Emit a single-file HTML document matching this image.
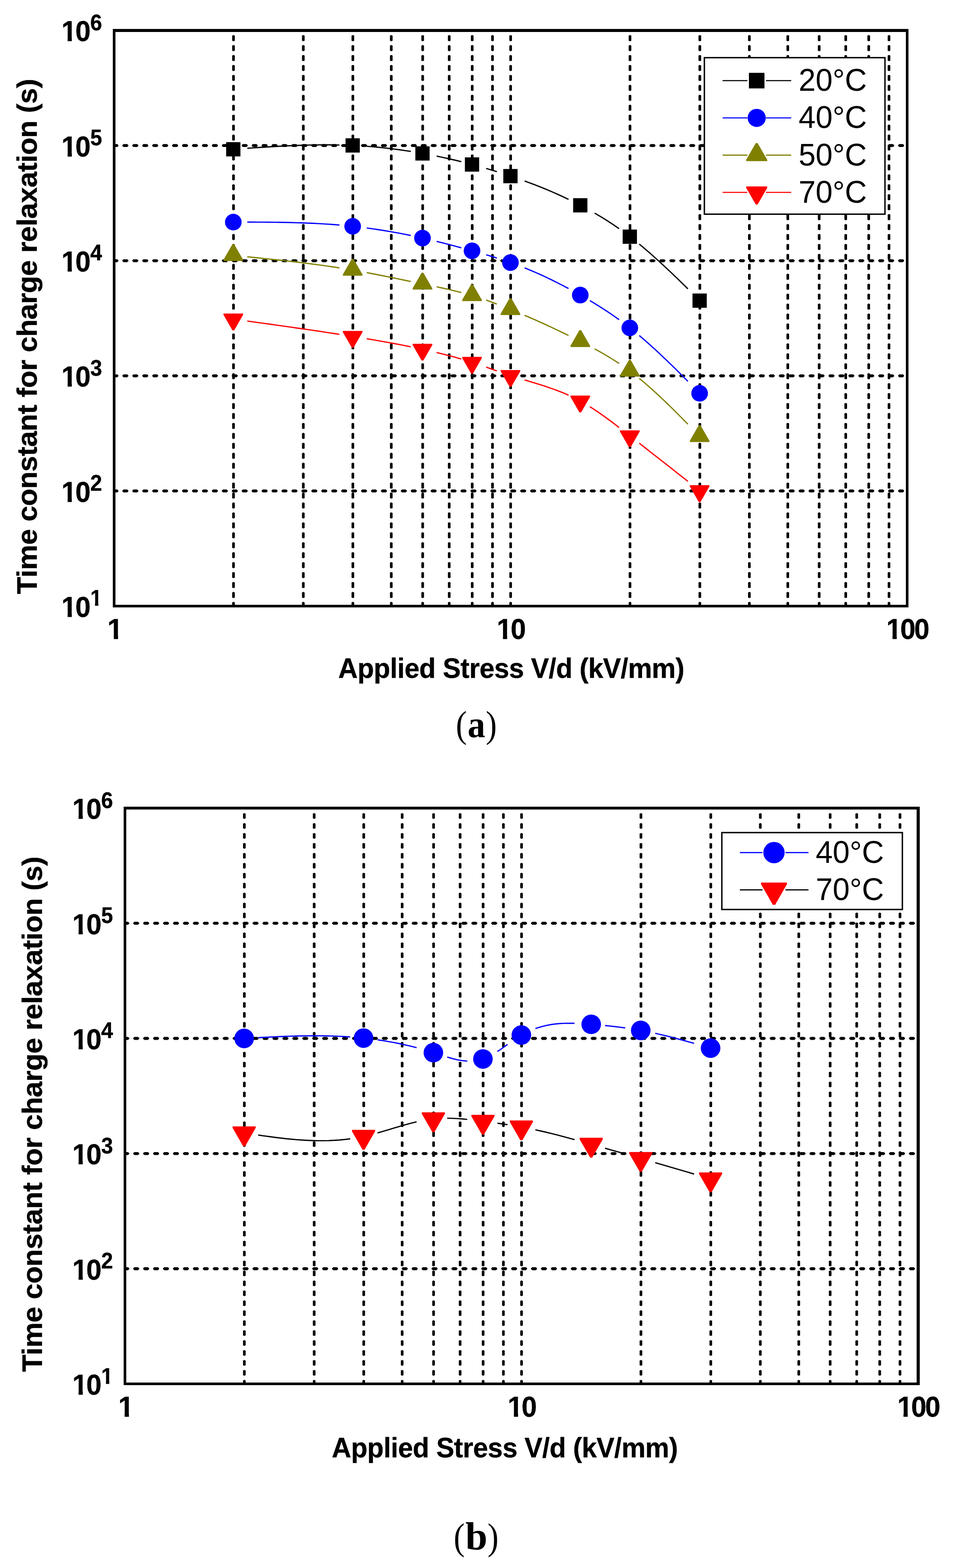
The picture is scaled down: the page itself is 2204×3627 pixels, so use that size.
<!DOCTYPE html>
<html lang="en">
<head>
<meta charset="utf-8">
<title>Time constant for charge relaxation vs applied stress</title>
<style>
html,body{margin:0;padding:0;background:#fff}
body{width:2204px;height:3627px}
svg{display:block}
text{fill:#000}
.s{font-family:"Liberation Sans",Arial,Helvetica,sans-serif}
.f{font-family:"Liberation Serif","Times New Roman",serif}
</style>
</head>
<body>
<svg width="2204" height="3627" viewBox="0 0 2204 3627" role="img" aria-label="Time constant for charge relaxation versus applied stress, panels (a) and (b)">
<rect width="2204" height="3627" fill="#fff"/>
<g id="chart-a">
<g stroke="#000" fill="none">
<path d="M540 1402V70.4" stroke-width="6.1" stroke-dasharray="12.2 10.8" stroke-dashoffset="3.4"/>
<path d="M540 1402V70.4" stroke-width="3.6" stroke-linecap="round" stroke-dasharray="10.8 12.2" stroke-dashoffset="2.7"/>
<path d="M701.47 1402V70.4" stroke-width="6.1" stroke-dasharray="12.2 10.8" stroke-dashoffset="3.4"/>
<path d="M701.47 1402V70.4" stroke-width="3.6" stroke-linecap="round" stroke-dasharray="10.8 12.2" stroke-dashoffset="2.7"/>
<path d="M816.05 1402V70.4" stroke-width="6.1" stroke-dasharray="12.2 10.8" stroke-dashoffset="3.4"/>
<path d="M816.05 1402V70.4" stroke-width="3.6" stroke-linecap="round" stroke-dasharray="10.8 12.2" stroke-dashoffset="2.7"/>
<path d="M904.91 1402V70.4" stroke-width="6.1" stroke-dasharray="12.2 10.8" stroke-dashoffset="3.4"/>
<path d="M904.91 1402V70.4" stroke-width="3.6" stroke-linecap="round" stroke-dasharray="10.8 12.2" stroke-dashoffset="2.7"/>
<path d="M977.52 1402V70.4" stroke-width="6.1" stroke-dasharray="12.2 10.8" stroke-dashoffset="3.4"/>
<path d="M977.52 1402V70.4" stroke-width="3.6" stroke-linecap="round" stroke-dasharray="10.8 12.2" stroke-dashoffset="2.7"/>
<path d="M1038.91 1402V70.4" stroke-width="6.1" stroke-dasharray="12.2 10.8" stroke-dashoffset="3.4"/>
<path d="M1038.91 1402V70.4" stroke-width="3.6" stroke-linecap="round" stroke-dasharray="10.8 12.2" stroke-dashoffset="2.7"/>
<path d="M1092.09 1402V70.4" stroke-width="6.1" stroke-dasharray="12.2 10.8" stroke-dashoffset="3.4"/>
<path d="M1092.09 1402V70.4" stroke-width="3.6" stroke-linecap="round" stroke-dasharray="10.8 12.2" stroke-dashoffset="2.7"/>
<path d="M1139 1402V70.4" stroke-width="6.1" stroke-dasharray="12.2 10.8" stroke-dashoffset="3.4"/>
<path d="M1139 1402V70.4" stroke-width="3.6" stroke-linecap="round" stroke-dasharray="10.8 12.2" stroke-dashoffset="2.7"/>
<path d="M1180.96 1402V70.4" stroke-width="6.1" stroke-dasharray="12.2 10.8" stroke-dashoffset="3.4"/>
<path d="M1180.96 1402V70.4" stroke-width="3.6" stroke-linecap="round" stroke-dasharray="10.8 12.2" stroke-dashoffset="2.7"/>
<path d="M1457.01 1402V70.4" stroke-width="6.1" stroke-dasharray="12.2 10.8" stroke-dashoffset="3.4"/>
<path d="M1457.01 1402V70.4" stroke-width="3.6" stroke-linecap="round" stroke-dasharray="10.8 12.2" stroke-dashoffset="2.7"/>
<path d="M1618.48 1402V70.4" stroke-width="6.1" stroke-dasharray="12.2 10.8" stroke-dashoffset="3.4"/>
<path d="M1618.48 1402V70.4" stroke-width="3.6" stroke-linecap="round" stroke-dasharray="10.8 12.2" stroke-dashoffset="2.7"/>
<path d="M1733.06 1402V70.4" stroke-width="6.1" stroke-dasharray="12.2 10.8" stroke-dashoffset="3.4"/>
<path d="M1733.06 1402V70.4" stroke-width="3.6" stroke-linecap="round" stroke-dasharray="10.8 12.2" stroke-dashoffset="2.7"/>
<path d="M1821.92 1402V70.4" stroke-width="6.1" stroke-dasharray="12.2 10.8" stroke-dashoffset="3.4"/>
<path d="M1821.92 1402V70.4" stroke-width="3.6" stroke-linecap="round" stroke-dasharray="10.8 12.2" stroke-dashoffset="2.7"/>
<path d="M1894.53 1402V70.4" stroke-width="6.1" stroke-dasharray="12.2 10.8" stroke-dashoffset="3.4"/>
<path d="M1894.53 1402V70.4" stroke-width="3.6" stroke-linecap="round" stroke-dasharray="10.8 12.2" stroke-dashoffset="2.7"/>
<path d="M1955.92 1402V70.4" stroke-width="6.1" stroke-dasharray="12.2 10.8" stroke-dashoffset="3.4"/>
<path d="M1955.92 1402V70.4" stroke-width="3.6" stroke-linecap="round" stroke-dasharray="10.8 12.2" stroke-dashoffset="2.7"/>
<path d="M2009.1 1402V70.4" stroke-width="6.1" stroke-dasharray="12.2 10.8" stroke-dashoffset="3.4"/>
<path d="M2009.1 1402V70.4" stroke-width="3.6" stroke-linecap="round" stroke-dasharray="10.8 12.2" stroke-dashoffset="2.7"/>
<path d="M2056.01 1402V70.4" stroke-width="6.1" stroke-dasharray="12.2 10.8" stroke-dashoffset="3.4"/>
<path d="M2056.01 1402V70.4" stroke-width="3.6" stroke-linecap="round" stroke-dasharray="10.8 12.2" stroke-dashoffset="2.7"/>
<path d="M263.95 336.72H2097.97" stroke-width="6.8" stroke-dasharray="9.6 13.4" stroke-dashoffset="1.8"/>
<path d="M263.95 336.72H2097.97" stroke-width="4.9" stroke-linecap="round" stroke-dasharray="9.1 13.9" stroke-dashoffset="1.55"/>
<path d="M263.95 603.04H2097.97" stroke-width="6.8" stroke-dasharray="9.6 13.4" stroke-dashoffset="1.8"/>
<path d="M263.95 603.04H2097.97" stroke-width="4.9" stroke-linecap="round" stroke-dasharray="9.1 13.9" stroke-dashoffset="1.55"/>
<path d="M263.95 869.36H2097.97" stroke-width="6.8" stroke-dasharray="9.6 13.4" stroke-dashoffset="1.8"/>
<path d="M263.95 869.36H2097.97" stroke-width="4.9" stroke-linecap="round" stroke-dasharray="9.1 13.9" stroke-dashoffset="1.55"/>
<path d="M263.95 1135.68H2097.97" stroke-width="6.8" stroke-dasharray="9.6 13.4" stroke-dashoffset="1.8"/>
<path d="M263.95 1135.68H2097.97" stroke-width="4.9" stroke-linecap="round" stroke-dasharray="9.1 13.9" stroke-dashoffset="1.55"/>
</g>
<rect x="1629" y="133.4" width="417.7" height="362" fill="#fff" stroke="#000" stroke-width="3.2"/>
<g fill="none" stroke="#000" stroke-width="2.9"><path d="M571.9 343.02L584.44 342.14L596.97 341.29L609.51 340.47L622.05 339.68L634.59 338.93L647.13 338.22L659.66 337.57L672.2 336.98L684.74 336.46L697.28 336L709.82 335.62L722.35 335.33L734.89 335.13L747.43 335.02L759.97 335.01L772.51 335.11L785.05 335.33"/><path d="M848.15 338.36L860.88 339.38L873.61 340.54L886.35 341.83L899.08 343.26L911.82 344.82L924.55 346.5L937.29 348.32L950.02 350.27"/><path d="M1009.72 361.06L1024.01 364.06L1038.31 367.21L1052.6 370.52L1066.89 373.99"/><path d="M1124.29 389.55L1130.48 391.38L1136.68 393.24L1142.87 395.13L1149.06 397.05"/><path d="M1213.26 418.68L1225.96 423.36L1238.65 428.2L1251.35 433.2L1264.05 438.38L1276.75 443.75L1289.44 449.31L1302.14 455.08L1314.84 461.07"/><path d="M1375.24 492.91L1389.38 501.29L1403.52 510.07L1417.66 519.29L1431.81 528.98"/><path d="M1478.51 564.62L1490.99 575.08L1503.48 585.88L1515.97 596.98L1528.45 608.36L1540.94 619.97L1553.43 631.79L1565.91 643.78L1578.4 655.91L1590.88 668.14"/></g>
<g fill="none" stroke="#00f" stroke-width="2.9"><path d="M571.9 513.78L584.44 513.8L596.97 513.83L609.51 513.89L622.05 513.98L634.59 514.11L647.13 514.28L659.66 514.49L672.2 514.77L684.74 515.1L697.28 515.49L709.82 515.95L722.35 516.5L734.89 517.12L747.43 517.83L759.97 518.63L772.51 519.53L785.05 520.53"/><path d="M848.15 527.35L860.88 529.1L873.61 530.97L886.35 532.96L899.08 535.07L911.82 537.31L924.55 539.66L937.29 542.13L950.02 544.72"/><path d="M1009.72 558.35L1024.01 561.94L1038.31 565.63L1052.6 569.41L1066.89 573.27"/><path d="M1124.29 589.33L1130.48 591.15L1136.68 593L1142.87 594.89L1149.06 596.8"/><path d="M1213.26 619.61L1225.96 624.82L1238.65 630.26L1251.35 635.92L1264.05 641.8L1276.75 647.89L1289.44 654.19L1302.14 660.69L1314.84 667.39"/><path d="M1364.24 695.25L1377.75 703.43L1391.27 711.9L1404.78 720.71L1418.29 729.88L1431.81 739.45"/><path d="M1478.51 776.07L1490.99 786.79L1503.48 797.85L1515.97 809.21L1528.45 820.85L1540.94 832.73L1553.43 844.81L1565.91 857.06L1578.4 869.46L1590.88 881.96"/></g>
<g fill="none" stroke="#808000" stroke-width="2.9"><path d="M571.9 594.03L584.44 595.28L596.97 596.54L609.51 597.82L622.05 599.12L634.59 600.44L647.13 601.79L659.66 603.18L672.2 604.6L684.74 606.06L697.28 607.57L709.82 609.13L722.35 610.74L734.89 612.4L747.43 614.13L759.97 615.92L772.51 617.77L785.05 619.7"/><path d="M848.15 630.59L860.88 633.02L873.61 635.5L886.35 638.03L899.08 640.6L911.82 643.2L924.55 645.82L937.29 648.46L950.02 651.11"/><path d="M1009.72 663.45L1024.01 666.5L1038.31 669.69L1052.6 673.06L1066.89 676.65"/><path d="M1124.29 694.22L1130.48 696.42L1136.68 698.67L1142.87 700.96L1149.06 703.3"/><path d="M1213.26 729.38L1225.96 734.85L1238.65 740.43L1251.35 746.11L1264.05 751.89L1276.75 757.76L1289.44 763.75L1302.14 769.83L1314.84 776.01"/><path d="M1375.24 806.96L1389.38 814.79L1403.52 822.99L1417.66 831.61L1431.81 840.75"/><path d="M1478.51 875.32L1490.99 885.75L1503.48 896.61L1515.97 907.87L1528.45 919.47L1540.94 931.38L1553.43 943.56L1565.91 955.95L1578.4 968.52L1590.88 981.23"/></g>
<g fill="none" stroke="#f00" stroke-width="2.9"><path d="M571.9 742.6L584.44 744.33L596.97 746.07L609.51 747.82L622.05 749.56L634.59 751.32L647.13 753.09L659.66 754.86L672.2 756.65L684.74 758.45L697.28 760.26L709.82 762.09L722.35 763.93L734.89 765.79L747.43 767.66L759.97 769.56L772.51 771.47L785.05 773.41"/><path d="M848.15 783.54L860.88 785.68L873.61 787.86L886.35 790.1L899.08 792.39L911.82 794.74L924.55 797.15L937.29 799.63L950.02 802.19"/><path d="M1009.72 815.37L1024.01 818.88L1038.31 822.56L1052.6 826.44L1066.89 830.53"/><path d="M1124.29 849.23L1130.48 851.41L1136.68 853.59L1142.87 855.77L1149.06 857.95"/><path d="M1213.26 878.84L1225.96 882.66L1238.65 886.53L1251.35 890.49L1264.05 894.63L1276.75 899L1289.44 903.67L1302.14 908.71L1314.84 914.18"/><path d="M1364.24 940.75L1377.75 949.51L1391.27 958.79L1404.78 968.49L1418.29 978.52L1431.81 988.82"/><path d="M1478.51 1025.21L1490.99 1034.99L1503.48 1044.77L1515.97 1054.56L1528.45 1064.36L1540.94 1074.16L1553.43 1083.97L1565.91 1093.78L1578.4 1103.59L1590.88 1113.4"/></g>
<rect x="523.05" y="328.8" width="33" height="33" fill="#000"/>
<rect x="799.1" y="319.9" width="33" height="33" fill="#000"/>
<rect x="960.57" y="338.4" width="33" height="33" fill="#000"/>
<rect x="1075.14" y="364" width="33" height="33" fill="#000"/>
<rect x="1164.01" y="390.9" width="33" height="33" fill="#000"/>
<rect x="1325.49" y="458.4" width="33" height="33" fill="#000"/>
<rect x="1440.06" y="531" width="33" height="33" fill="#000"/>
<rect x="1601.53" y="678.9" width="33" height="33" fill="#000"/>
<circle cx="539.55" cy="513.8" r="19.25" fill="#00f"/>
<circle cx="815.6" cy="523.5" r="19.25" fill="#00f"/>
<circle cx="977.07" cy="550.7" r="19.25" fill="#00f"/>
<circle cx="1091.64" cy="580.2" r="19.25" fill="#00f"/>
<circle cx="1180.51" cy="607.4" r="19.25" fill="#00f"/>
<circle cx="1341.99" cy="682.6" r="19.25" fill="#00f"/>
<circle cx="1456.56" cy="758.5" r="19.25" fill="#00f"/>
<circle cx="1618.03" cy="909.8" r="19.25" fill="#00f"/>
<path d="M516.9 603.75L562.2 603.75L562.2 600.75L541.55 564.85L537.55 564.85L516.9 600.75Z" fill="#808000"/>
<path d="M792.95 637.65L838.25 637.65L838.25 634.65L817.6 598.75L813.6 598.75L792.95 634.65Z" fill="#808000"/>
<path d="M954.42 669.65L999.72 669.65L999.72 666.65L979.07 630.75L975.07 630.75L954.42 666.65Z" fill="#808000"/>
<path d="M1068.99 696.55L1114.29 696.55L1114.29 693.55L1093.64 657.65L1089.64 657.65L1068.99 693.55Z" fill="#808000"/>
<path d="M1157.86 728.75L1203.16 728.75L1203.16 725.75L1182.51 689.85L1178.51 689.85L1157.86 725.75Z" fill="#808000"/>
<path d="M1319.34 802.65L1364.64 802.65L1364.64 799.65L1343.99 763.75L1339.99 763.75L1319.34 799.65Z" fill="#808000"/>
<path d="M1433.91 871.35L1479.21 871.35L1479.21 868.35L1458.56 832.45L1454.56 832.45L1433.91 868.35Z" fill="#808000"/>
<path d="M1595.38 1022.45L1640.68 1022.45L1640.68 1019.45L1620.03 983.55L1616.03 983.55L1595.38 1019.45Z" fill="#808000"/>
<path d="M516.9 725.35L562.2 725.35L562.2 728.35L541.55 764.25L537.55 764.25L516.9 728.35Z" fill="#f00"/>
<path d="M792.95 765.45L838.25 765.45L838.25 768.45L817.6 804.35L813.6 804.35L792.95 768.45Z" fill="#f00"/>
<path d="M954.42 795.15L999.72 795.15L999.72 798.15L979.07 834.05L975.07 834.05L954.42 798.15Z" fill="#f00"/>
<path d="M1068.99 825.45L1114.29 825.45L1114.29 828.45L1093.64 864.35L1089.64 864.35L1068.99 828.45Z" fill="#f00"/>
<path d="M1157.86 855.95L1203.16 855.95L1203.16 858.95L1182.51 894.85L1178.51 894.85L1157.86 858.95Z" fill="#f00"/>
<path d="M1319.34 915.05L1364.64 915.05L1364.64 918.05L1343.99 953.95L1339.99 953.95L1319.34 918.05Z" fill="#f00"/>
<path d="M1433.91 995.55L1479.21 995.55L1479.21 998.55L1458.56 1034.45L1454.56 1034.45L1433.91 998.55Z" fill="#f00"/>
<path d="M1595.38 1122.25L1640.68 1122.25L1640.68 1125.25L1620.03 1161.15L1616.03 1161.15L1595.38 1125.25Z" fill="#f00"/>
<path fill="#000" fill-rule="evenodd" d="M260.9 66.9H2101.0V1404.9H260.9ZM267.0 73.9H2095.0V1399.0H267.0Z"/>
<path d="M1671.1 186.5H1829.8" stroke="#000" stroke-width="2.6"/>
<path d="M1728.5 186.5H1771.5" stroke="#fff" stroke-width="4.6"/>
<rect x="1732" y="168.5" width="36" height="36" fill="#000"/>
<text transform="translate(1847 210.1) scale(0.975 1)" class="s" font-size="72.5">20°C</text>
<path d="M1671.1 272.7H1829.8" stroke="#00f" stroke-width="2.6"/>
<path d="M1728.5 272.7H1771.5" stroke="#fff" stroke-width="4.6"/>
<circle cx="1750" cy="272.7" r="21" fill="#00f"/>
<text transform="translate(1847 296.3) scale(0.975 1)" class="s" font-size="72.5">40°C</text>
<path d="M1671.1 358.9H1829.8" stroke="#808000" stroke-width="2.6"/>
<path d="M1728.5 358.9H1771.5" stroke="#fff" stroke-width="4.6"/>
<path d="M1725.65 372.71L1774.35 372.71L1774.35 369.49L1752.15 330.89L1747.85 330.89L1725.65 369.49Z" fill="#808000"/>
<text transform="translate(1847 382.5) scale(0.975 1)" class="s" font-size="72.5">50°C</text>
<path d="M1671.1 445.0H1829.8" stroke="#f00" stroke-width="2.6"/>
<path d="M1728.5 445.0H1771.5" stroke="#fff" stroke-width="4.6"/>
<path d="M1725.65 431.19L1774.35 431.19L1774.35 434.41L1752.15 473.01L1747.85 473.01L1725.65 434.41Z" fill="#f00"/>
<text transform="translate(1847 468.6) scale(0.975 1)" class="s" font-size="72.5">70°C</text>
<g transform="translate(142 95.3) scale(0.944 1)"><text class="s" font-size="67.5" font-weight="bold" letter-spacing="-3.4" stroke="#000" stroke-width="0.5">10<tspan x="70.76" y="-25.5" font-size="52">6</tspan></text><path fill="#fff" d="M2.75 -8.34H15.25V1.5H2.75ZM25.52 -8.34H37.16V1.5H25.52Z"/></g>
<g transform="translate(142 361.62) scale(0.944 1)"><text class="s" font-size="67.5" font-weight="bold" letter-spacing="-3.4" stroke="#000" stroke-width="0.5">10<tspan x="70.76" y="-25.5" font-size="52">5</tspan></text><path fill="#fff" d="M2.75 -8.34H15.25V1.5H2.75ZM25.52 -8.34H37.16V1.5H25.52Z"/></g>
<g transform="translate(142 627.94) scale(0.944 1)"><text class="s" font-size="67.5" font-weight="bold" letter-spacing="-3.4" stroke="#000" stroke-width="0.5">10<tspan x="70.76" y="-25.5" font-size="52">4</tspan></text><path fill="#fff" d="M2.75 -8.34H15.25V1.5H2.75ZM25.52 -8.34H37.16V1.5H25.52Z"/></g>
<g transform="translate(142 894.26) scale(0.944 1)"><text class="s" font-size="67.5" font-weight="bold" letter-spacing="-3.4" stroke="#000" stroke-width="0.5">10<tspan x="70.76" y="-25.5" font-size="52">3</tspan></text><path fill="#fff" d="M2.75 -8.34H15.25V1.5H2.75ZM25.52 -8.34H37.16V1.5H25.52Z"/></g>
<g transform="translate(142 1160.58) scale(0.944 1)"><text class="s" font-size="67.5" font-weight="bold" letter-spacing="-3.4" stroke="#000" stroke-width="0.5">10<tspan x="70.76" y="-25.5" font-size="52">2</tspan></text><path fill="#fff" d="M2.75 -8.34H15.25V1.5H2.75ZM25.52 -8.34H37.16V1.5H25.52Z"/></g>
<g transform="translate(142 1426.9) scale(0.944 1)"><text class="s" font-size="67.5" font-weight="bold" letter-spacing="-3.4" stroke="#000" stroke-width="0.5">10<tspan x="70.76" y="-25.5" font-size="52">1</tspan></text><path fill="#fff" d="M2.75 -8.34H15.25V1.5H2.75ZM25.52 -8.34H37.16V1.5H25.52ZM72.54 -32.26H82.4V-24H72.54ZM90.53 -32.26H99.74V-24H90.53Z"/></g>
<g transform="translate(248.34 1478.3) scale(0.97 1)"><text class="s" font-size="67.5" font-weight="bold" letter-spacing="-3.4" stroke="#000" stroke-width="0.5">1</text><path fill="#fff" d="M2.75 -8.34H15.25V1.5H2.75ZM25.52 -8.34H37.16V1.5H25.52Z"/></g>
<g transform="translate(1148.83 1478.3) scale(0.944 1)"><text class="s" font-size="67.5" font-weight="bold" letter-spacing="-3.4" stroke="#000" stroke-width="0.5">10</text><path fill="#fff" d="M2.75 -8.34H15.25V1.5H2.75ZM25.52 -8.34H37.16V1.5H25.52Z"/></g>
<g transform="translate(2049.72 1478.3) scale(0.944 1)"><text class="s" font-size="67.5" font-weight="bold" letter-spacing="-3.4" stroke="#000" stroke-width="0.5">100</text><path fill="#fff" d="M2.75 -8.34H15.25V1.5H2.75ZM25.52 -8.34H37.16V1.5H25.52Z"/></g>
<text transform="translate(782.3 1568) scale(0.953 1)" class="s" font-size="65.5" font-weight="bold" letter-spacing="-0.6" stroke="#000" stroke-width="0.5">Applied Stress V/d (kV/mm)</text>
<text transform="translate(84.9 1374.6) rotate(-90) scale(1.015 1)" class="s" font-size="65" font-weight="bold" letter-spacing="-0.6" stroke="#000" stroke-width="0.5">Time constant for charge relaxation (s)</text>
<g><text transform="translate(1054.2 1704.9) scale(0.89 1)" class="f" font-size="86">(</text><text transform="translate(1081.5 1704.9) scale(0.925 1)" class="f" font-size="88" font-weight="bold">a</text><text transform="translate(1123.5 1704.9) scale(0.89 1)" class="f" font-size="86">)</text></g>
</g>
<g id="chart-b">
<g stroke="#000" fill="none">
<path d="M565.1 3201.1V1869.3" stroke-width="6.1" stroke-dasharray="11.3 11.7" stroke-dashoffset="3.1"/>
<path d="M565.1 3201.1V1869.3" stroke-width="3.6" stroke-linecap="round" stroke-dasharray="9.9 13.1" stroke-dashoffset="2.4"/>
<path d="M726.62 3201.1V1869.3" stroke-width="6.1" stroke-dasharray="11.3 11.7" stroke-dashoffset="3.1"/>
<path d="M726.62 3201.1V1869.3" stroke-width="3.6" stroke-linecap="round" stroke-dasharray="9.9 13.1" stroke-dashoffset="2.4"/>
<path d="M841.21 3201.1V1869.3" stroke-width="6.1" stroke-dasharray="11.3 11.7" stroke-dashoffset="3.1"/>
<path d="M841.21 3201.1V1869.3" stroke-width="3.6" stroke-linecap="round" stroke-dasharray="9.9 13.1" stroke-dashoffset="2.4"/>
<path d="M930.1 3201.1V1869.3" stroke-width="6.1" stroke-dasharray="11.3 11.7" stroke-dashoffset="3.1"/>
<path d="M930.1 3201.1V1869.3" stroke-width="3.6" stroke-linecap="round" stroke-dasharray="9.9 13.1" stroke-dashoffset="2.4"/>
<path d="M1002.72 3201.1V1869.3" stroke-width="6.1" stroke-dasharray="11.3 11.7" stroke-dashoffset="3.1"/>
<path d="M1002.72 3201.1V1869.3" stroke-width="3.6" stroke-linecap="round" stroke-dasharray="9.9 13.1" stroke-dashoffset="2.4"/>
<path d="M1064.12 3201.1V1869.3" stroke-width="6.1" stroke-dasharray="11.3 11.7" stroke-dashoffset="3.1"/>
<path d="M1064.12 3201.1V1869.3" stroke-width="3.6" stroke-linecap="round" stroke-dasharray="9.9 13.1" stroke-dashoffset="2.4"/>
<path d="M1117.31 3201.1V1869.3" stroke-width="6.1" stroke-dasharray="11.3 11.7" stroke-dashoffset="3.1"/>
<path d="M1117.31 3201.1V1869.3" stroke-width="3.6" stroke-linecap="round" stroke-dasharray="9.9 13.1" stroke-dashoffset="2.4"/>
<path d="M1164.23 3201.1V1869.3" stroke-width="6.1" stroke-dasharray="11.3 11.7" stroke-dashoffset="3.1"/>
<path d="M1164.23 3201.1V1869.3" stroke-width="3.6" stroke-linecap="round" stroke-dasharray="9.9 13.1" stroke-dashoffset="2.4"/>
<path d="M1206.2 3201.1V1869.3" stroke-width="6.1" stroke-dasharray="11.3 11.7" stroke-dashoffset="3.1"/>
<path d="M1206.2 3201.1V1869.3" stroke-width="3.6" stroke-linecap="round" stroke-dasharray="9.9 13.1" stroke-dashoffset="2.4"/>
<path d="M1482.3 3201.1V1869.3" stroke-width="6.1" stroke-dasharray="11.3 11.7" stroke-dashoffset="3.1"/>
<path d="M1482.3 3201.1V1869.3" stroke-width="3.6" stroke-linecap="round" stroke-dasharray="9.9 13.1" stroke-dashoffset="2.4"/>
<path d="M1643.82 3201.1V1869.3" stroke-width="6.1" stroke-dasharray="11.3 11.7" stroke-dashoffset="3.1"/>
<path d="M1643.82 3201.1V1869.3" stroke-width="3.6" stroke-linecap="round" stroke-dasharray="9.9 13.1" stroke-dashoffset="2.4"/>
<path d="M1758.41 3201.1V1869.3" stroke-width="6.1" stroke-dasharray="11.3 11.7" stroke-dashoffset="3.1"/>
<path d="M1758.41 3201.1V1869.3" stroke-width="3.6" stroke-linecap="round" stroke-dasharray="9.9 13.1" stroke-dashoffset="2.4"/>
<path d="M1847.3 3201.1V1869.3" stroke-width="6.1" stroke-dasharray="11.3 11.7" stroke-dashoffset="3.1"/>
<path d="M1847.3 3201.1V1869.3" stroke-width="3.6" stroke-linecap="round" stroke-dasharray="9.9 13.1" stroke-dashoffset="2.4"/>
<path d="M1919.92 3201.1V1869.3" stroke-width="6.1" stroke-dasharray="11.3 11.7" stroke-dashoffset="3.1"/>
<path d="M1919.92 3201.1V1869.3" stroke-width="3.6" stroke-linecap="round" stroke-dasharray="9.9 13.1" stroke-dashoffset="2.4"/>
<path d="M1981.32 3201.1V1869.3" stroke-width="6.1" stroke-dasharray="11.3 11.7" stroke-dashoffset="3.1"/>
<path d="M1981.32 3201.1V1869.3" stroke-width="3.6" stroke-linecap="round" stroke-dasharray="9.9 13.1" stroke-dashoffset="2.4"/>
<path d="M2034.51 3201.1V1869.3" stroke-width="6.1" stroke-dasharray="11.3 11.7" stroke-dashoffset="3.1"/>
<path d="M2034.51 3201.1V1869.3" stroke-width="3.6" stroke-linecap="round" stroke-dasharray="9.9 13.1" stroke-dashoffset="2.4"/>
<path d="M2081.43 3201.1V1869.3" stroke-width="6.1" stroke-dasharray="11.3 11.7" stroke-dashoffset="3.1"/>
<path d="M2081.43 3201.1V1869.3" stroke-width="3.6" stroke-linecap="round" stroke-dasharray="9.9 13.1" stroke-dashoffset="2.4"/>
<path d="M289 2135.66H2123.4" stroke-width="6.8" stroke-dasharray="9.6 13.4" stroke-dashoffset="1.8"/>
<path d="M289 2135.66H2123.4" stroke-width="4.9" stroke-linecap="round" stroke-dasharray="9.1 13.9" stroke-dashoffset="1.55"/>
<path d="M289 2402.02H2123.4" stroke-width="6.8" stroke-dasharray="9.6 13.4" stroke-dashoffset="1.8"/>
<path d="M289 2402.02H2123.4" stroke-width="4.9" stroke-linecap="round" stroke-dasharray="9.1 13.9" stroke-dashoffset="1.55"/>
<path d="M289 2668.38H2123.4" stroke-width="6.8" stroke-dasharray="9.6 13.4" stroke-dashoffset="1.8"/>
<path d="M289 2668.38H2123.4" stroke-width="4.9" stroke-linecap="round" stroke-dasharray="9.1 13.9" stroke-dashoffset="1.55"/>
<path d="M289 2934.74H2123.4" stroke-width="6.8" stroke-dasharray="9.6 13.4" stroke-dashoffset="1.8"/>
<path d="M289 2934.74H2123.4" stroke-width="4.9" stroke-linecap="round" stroke-dasharray="9.1 13.9" stroke-dashoffset="1.55"/>
</g>
<rect x="1669.4" y="1925.9" width="417.5" height="177.9" fill="#fff" stroke="#000" stroke-width="3.2"/>
<g fill="none" stroke="#00f" stroke-width="2.9"><path d="M597.1 2400.23L609.62 2399.57L622.14 2398.94L634.66 2398.35L647.18 2397.8L659.69 2397.31L672.21 2396.87L684.73 2396.51L697.25 2396.23L709.77 2396.03L722.28 2395.93L734.8 2395.94L747.32 2396.05L759.84 2396.28L772.36 2396.65L784.87 2397.15L797.39 2397.79L809.91 2398.59"/><path d="M873.01 2405.21L885.94 2407.16L898.87 2409.31L911.8 2411.68L924.73 2414.27L937.66 2417.09L950.59 2420.14L963.52 2423.43"/><path d="M1034.22 2445.14L1045.82 2448.49L1057.42 2451.31L1069.02 2453.38L1080.61 2454.51"/><path d="M1150.41 2432.29L1156.26 2428.37L1162.11 2424.32L1167.95 2420.17L1173.8 2415.99"/><path d="M1238.2 2379.17L1251.14 2375.03L1264.09 2371.86L1277.03 2369.55L1289.98 2368.02L1302.92 2367.15L1315.87 2366.86L1328.81 2367.03"/><path d="M1399.41 2372.23L1411.03 2373.42L1422.66 2374.72L1434.28 2376.14L1445.9 2377.69"/><path d="M1515.3 2390.19L1528.15 2393.12L1540.99 2396.21L1553.84 2399.44L1566.68 2402.79L1579.53 2406.24L1592.37 2409.79L1605.22 2413.4"/></g>
<g fill="none" stroke="#000" stroke-width="2.9"><path d="M597.1 2625.5L609.62 2627.31L622.14 2629.06L634.66 2630.71L647.18 2632.26L659.69 2633.69L672.21 2634.97L684.73 2636.1L697.25 2637.04L709.77 2637.78L722.28 2638.3L734.8 2638.58L747.32 2638.61L759.84 2638.36L772.36 2637.81L784.87 2636.96L797.39 2635.76L809.91 2634.22"/><path d="M873.01 2620.69L885.94 2616.96L898.87 2613.1L911.8 2609.2L924.73 2605.34L937.66 2601.61L950.59 2598.11L963.52 2594.93"/><path d="M1034.22 2586.6L1045.82 2586.84L1057.42 2587.42L1069.02 2588.29L1080.61 2589.4"/><path d="M1150.41 2598.16L1156.26 2598.97L1162.11 2599.79L1167.95 2600.64L1173.8 2601.52"/><path d="M1238.2 2613.33L1251.14 2616.22L1264.09 2619.26L1277.03 2622.43L1289.98 2625.71L1302.92 2629.09L1315.87 2632.56L1328.81 2636.1"/><path d="M1399.41 2656L1411.03 2659.31L1422.66 2662.63L1434.28 2665.96L1445.9 2669.3"/><path d="M1515.3 2689.39L1528.15 2693.13L1540.99 2696.89L1553.84 2700.65L1566.68 2704.41L1579.53 2708.18L1592.37 2711.96L1605.22 2715.74"/></g>
<circle cx="564.65" cy="2402" r="22.65" fill="#00f"/>
<circle cx="840.76" cy="2401.3" r="22.65" fill="#00f"/>
<circle cx="1002.27" cy="2434.9" r="22.65" fill="#00f"/>
<circle cx="1116.86" cy="2449.6" r="22.65" fill="#00f"/>
<circle cx="1205.75" cy="2394.2" r="22.65" fill="#00f"/>
<circle cx="1367.26" cy="2369.4" r="22.65" fill="#00f"/>
<circle cx="1481.85" cy="2383.5" r="22.65" fill="#00f"/>
<circle cx="1643.37" cy="2424.5" r="22.65" fill="#00f"/>
<path d="M537.95 2605.55L591.35 2605.55L591.35 2609.09L567.01 2651.41L562.3 2651.41L537.95 2609.09Z" fill="#f00"/>
<path d="M814.06 2613.55L867.46 2613.55L867.46 2617.09L843.12 2659.41L838.4 2659.41L814.06 2617.09Z" fill="#f00"/>
<path d="M975.57 2572.95L1028.97 2572.95L1028.97 2576.49L1004.63 2618.81L999.91 2618.81L975.57 2576.49Z" fill="#f00"/>
<path d="M1090.16 2578.65L1143.56 2578.65L1143.56 2582.19L1119.22 2624.51L1114.51 2624.51L1090.16 2582.19Z" fill="#f00"/>
<path d="M1179.05 2591.75L1232.45 2591.75L1232.45 2595.29L1208.11 2637.61L1203.39 2637.61L1179.05 2595.29Z" fill="#f00"/>
<path d="M1340.56 2631.85L1393.96 2631.85L1393.96 2635.39L1369.62 2677.71L1364.9 2677.71L1340.56 2635.39Z" fill="#f00"/>
<path d="M1455.15 2664.65L1508.55 2664.65L1508.55 2668.19L1484.21 2710.51L1479.5 2710.51L1455.15 2668.19Z" fill="#f00"/>
<path d="M1616.67 2711.95L1670.07 2711.95L1670.07 2715.49L1645.72 2757.81L1641.01 2757.81L1616.67 2715.49Z" fill="#f00"/>
<path fill="#000" fill-rule="evenodd" d="M285.95 1866.0H2127.1V3204.0H285.95ZM292.05 1872.6H2119.9V3198.1H292.05Z"/>
<path d="M1711.1 1972.1H1869.8" stroke="#00f" stroke-width="2.6"/>
<path d="M1763.5 1972.1H1816.5" stroke="#fff" stroke-width="4.6"/>
<circle cx="1790" cy="1972.1" r="24.7" fill="#00f"/>
<text transform="translate(1886.5 1995.7) scale(0.975 1)" class="s" font-size="72.5">40°C</text>
<path d="M1711.1 2058.4H1869.8" stroke="#000" stroke-width="2.6"/>
<path d="M1763.5 2058.4H1816.5" stroke="#fff" stroke-width="4.6"/>
<path d="M1760 2041.38L1820 2041.38L1820 2045.35L1792.65 2092.9L1787.35 2092.9L1760 2045.35Z" fill="#f00"/>
<text transform="translate(1886.5 2082) scale(0.975 1)" class="s" font-size="72.5">70°C</text>
<g transform="translate(167.3 1894.2) scale(0.944 1)"><text class="s" font-size="67.5" font-weight="bold" letter-spacing="-3.4" stroke="#000" stroke-width="0.5">10<tspan x="70.76" y="-25.5" font-size="52">6</tspan></text><path fill="#fff" d="M2.75 -8.34H15.25V1.5H2.75ZM25.52 -8.34H37.16V1.5H25.52Z"/></g>
<g transform="translate(167.3 2160.56) scale(0.944 1)"><text class="s" font-size="67.5" font-weight="bold" letter-spacing="-3.4" stroke="#000" stroke-width="0.5">10<tspan x="70.76" y="-25.5" font-size="52">5</tspan></text><path fill="#fff" d="M2.75 -8.34H15.25V1.5H2.75ZM25.52 -8.34H37.16V1.5H25.52Z"/></g>
<g transform="translate(167.3 2426.92) scale(0.944 1)"><text class="s" font-size="67.5" font-weight="bold" letter-spacing="-3.4" stroke="#000" stroke-width="0.5">10<tspan x="70.76" y="-25.5" font-size="52">4</tspan></text><path fill="#fff" d="M2.75 -8.34H15.25V1.5H2.75ZM25.52 -8.34H37.16V1.5H25.52Z"/></g>
<g transform="translate(167.3 2693.28) scale(0.944 1)"><text class="s" font-size="67.5" font-weight="bold" letter-spacing="-3.4" stroke="#000" stroke-width="0.5">10<tspan x="70.76" y="-25.5" font-size="52">3</tspan></text><path fill="#fff" d="M2.75 -8.34H15.25V1.5H2.75ZM25.52 -8.34H37.16V1.5H25.52Z"/></g>
<g transform="translate(167.3 2959.64) scale(0.944 1)"><text class="s" font-size="67.5" font-weight="bold" letter-spacing="-3.4" stroke="#000" stroke-width="0.5">10<tspan x="70.76" y="-25.5" font-size="52">2</tspan></text><path fill="#fff" d="M2.75 -8.34H15.25V1.5H2.75ZM25.52 -8.34H37.16V1.5H25.52Z"/></g>
<g transform="translate(167.3 3226) scale(0.944 1)"><text class="s" font-size="67.5" font-weight="bold" letter-spacing="-3.4" stroke="#000" stroke-width="0.5">10<tspan x="70.76" y="-25.5" font-size="52">1</tspan></text><path fill="#fff" d="M2.75 -8.34H15.25V1.5H2.75ZM25.52 -8.34H37.16V1.5H25.52ZM72.54 -32.26H82.4V-24H72.54ZM90.53 -32.26H99.74V-24H90.53Z"/></g>
<g transform="translate(273.39 3277.4) scale(0.97 1)"><text class="s" font-size="67.5" font-weight="bold" letter-spacing="-3.4" stroke="#000" stroke-width="0.5">1</text><path fill="#fff" d="M2.75 -8.34H15.25V1.5H2.75ZM25.52 -8.34H37.16V1.5H25.52Z"/></g>
<g transform="translate(1174.07 3277.4) scale(0.944 1)"><text class="s" font-size="67.5" font-weight="bold" letter-spacing="-3.4" stroke="#000" stroke-width="0.5">10</text><path fill="#fff" d="M2.75 -8.34H15.25V1.5H2.75ZM25.52 -8.34H37.16V1.5H25.52Z"/></g>
<g transform="translate(2075.15 3277.4) scale(0.944 1)"><text class="s" font-size="67.5" font-weight="bold" letter-spacing="-3.4" stroke="#000" stroke-width="0.5">100</text><path fill="#fff" d="M2.75 -8.34H15.25V1.5H2.75ZM25.52 -8.34H37.16V1.5H25.52Z"/></g>
<text transform="translate(767.3 3371) scale(0.953 1)" class="s" font-size="65.5" font-weight="bold" letter-spacing="-0.6" stroke="#000" stroke-width="0.5">Applied Stress V/d (kV/mm)</text>
<text transform="translate(97.1 3173.4) rotate(-90) scale(1.015 1)" class="s" font-size="65" font-weight="bold" letter-spacing="-0.6" stroke="#000" stroke-width="0.5">Time constant for charge relaxation (s)</text>
<g><text transform="translate(1049.3 3584.2) scale(0.89 1)" class="f" font-size="86">(</text><text transform="translate(1076.2 3584.2) scale(1.02 1)" class="f" font-size="90" font-weight="bold">b</text><text transform="translate(1127.5 3584.2) scale(0.89 1)" class="f" font-size="86">)</text></g>
</g>
</svg>
</body>
</html>
